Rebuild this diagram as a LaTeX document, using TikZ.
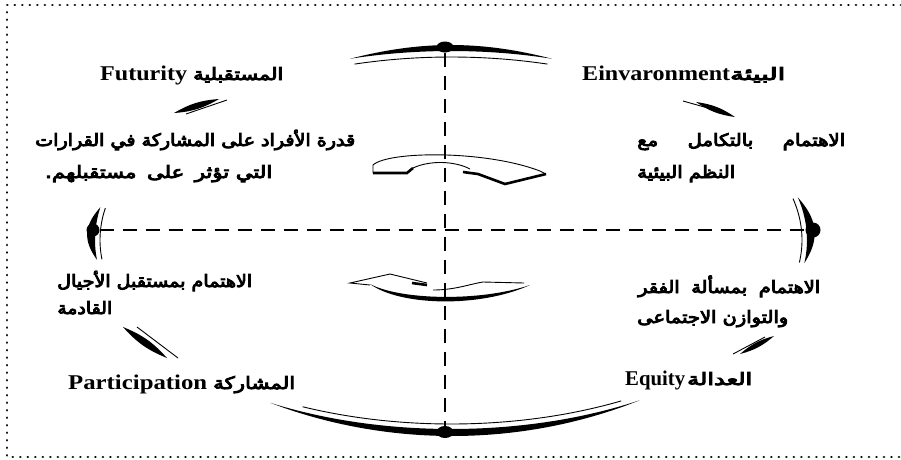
\documentclass[tikz,border=0pt]{standalone}
\usepackage{fontspec}
\usepackage{graphicx}
\setmainfont{Liberation Serif}
\newfontfamily\arabicfont[Script=Arabic,FakeBold=5]{DejaVu Sans}
\TeXXeTstate=1
\usetikzlibrary{shapes.geometric}
\newcommand\ar[1]{{\arabicfont\beginR #1\endR}}
\newcommand\fitw[2]{\resizebox{#1pt}{\height}{#2}}
\def\cx{451}\def\cy{240}\def\ra{356}\def\rb{189}
% crescent brush stroke along the ellipse (t1,t2,width) and thin inner line (t1,t2,gap)
\newcommand\brush[3]{\fill plot[domain=#1:#2,samples=50,variable=\t]
 ({\cx+(\ra+#3*sin(180*(\t-(#1))/((#2)-(#1))))*cos(\t)},{\cy-(\rb+#3*sin(180*(\t-(#1))/((#2)-(#1))))*sin(\t)})
 -- plot[domain=#2:#1,samples=50,variable=\t] ({\cx+\ra*cos(\t)},{\cy-\rb*sin(\t)}) -- cycle;}
\newcommand\thinarc[3]{\draw[thinln] plot[domain=#1:#2,samples=50,variable=\t]
 ({\cx+(\ra-#3)*cos(\t)},{\cy-(\rb-#3)*sin(\t)});}
\newcommand\lens[2]{\fill (#1) to[bend left=13] (#2) to[bend left=13] (#1);}
\begin{document}
\begin{tikzpicture}[x=1pt,y=-1pt,
 lat/.style={inner sep=0, anchor=base west, font=\fontsize{21}{24}\selectfont\bfseries},
 arb/.style={inner sep=0, anchor=base west, font=\fontsize{17}{20}\selectfont},
 dotnode/.style={ellipse, fill=black, inner sep=0},
 dashln/.style={line width=2.4pt, dash pattern=on 14pt off 9pt},
 thinln/.style={line width=0.9pt},
 thickln/.style={line width=2.6pt},
 border/.style={line width=2.8pt, line cap=round, dash pattern=on 0.01pt off 7.5pt}]
\useasboundingbox (0,0) rectangle (901,459);
% dotted frame
\draw[border] (901,5) -- (7,5) -- (7,457) -- (901,457);
% ellipse pieces
\brush{73.5}{106.5}{6}  \thinarc{74}{106}{6}
\brush{239.5}{302}{7}   \thinarc{245}{299}{5}
\brush{170}{186}{8}     \thinarc{170}{186}{5}
\brush{-7}{13}{8}       \thinarc{-7}{13}{5}
% short double strokes
\lens{174,113}{219,99}   \draw[thinln] (186,114) -- (227,100);
\lens{696,102}{735,117}  \draw[thinln] (683,101) -- (722,112);
\lens{123,327}{167,358}  \draw[thinln] (137,327) -- (178,358);
\lens{740,354}{774,336}  \draw[thinln] (733,354) -- (765,337);
% dots and axes
\node[dotnode, minimum width=17pt, minimum height=11pt] (T) at (445,47) {};
\node[dotnode, minimum width=17pt, minimum height=12pt] (B) at (445,432) {};
\node[dotnode, minimum width=13pt, minimum height=13pt] (L) at (93,230) {};
\node[dotnode, minimum width=15pt, minimum height=15pt] (R) at (813,230) {};
\draw[dashln] (T) -- (B);
\draw[dashln] (L) -- (R);
% upper curved arrow (pointing right)
\draw[thinln] (373,173) -- (373,165) .. controls (388,151) and (485,150) .. (540,171) -- (546,174);
\draw[thinln] (413,168) .. controls (430,160) and (455,161) .. (470,169);
\draw[thickln] (373,173) -- (407,173) -- (413,168);
\draw[thickln, line join=miter] (463,172) -- (478,174) -- (505,184) -- (546,174);
% lower curved arrow (pointing left)
\draw[thinln] (370,285) -- (350,283) -- (390,274) -- (427,283);
\draw[thickln] (412,283) -- (427,285);
\fill (370,284) .. controls (400,306) and (480,308) .. (530,285) .. controls (480,302) and (400,300) .. (370,284);
\draw[thinln] (433,290) .. controls (455,290) and (470,284) .. (483,282) -- (524,283);
% labels
\node[lat] (futL) at (100,80) {\fitw{87}{Futurity}};
\node[arb] (futA) at (193,80) {\fitw{90}{\ar{المستقبلية}}};
\node[lat] (envL) at (582,80) {\fitw{148}{Einvaronment}};
\node[arb] (envA) at (730,80) {\fitw{55}{\ar{البيئة}}};
\node[arb] (t1) at (35,146) {\fitw{320}{\ar{قدرة الأفراد على المشاركة في القرارات}}};
\node[arb] (t2) at (45,178) {\fitw{227}{\ar{التي تؤثر\hspace{0.5em}على\hspace{0.5em}مستقبلهم.}}};
\node[arb] (t3) at (637,146) {\fitw{208}{\ar{الاهتمام\hspace{1.5em}بالتكامل\hspace{1.5em}مع}}};
\node[arb] (t4) at (637,178) {\fitw{98}{\ar{النظم البيئية}}};
\node[arb] (t5) at (57,287) {\fitw{195}{\ar{الاهتمام بمستقبل الأجيال}}};
\node[arb] (t6) at (57,314) {\fitw{55}{\ar{القادمة}}};
\node[lat] (parL) at (68,389) {\fitw{139}{Participation}};
\node[arb] (parA) at (213,389) {\fitw{82}{\ar{المشاركة}}};
\node[arb] (t7) at (638,293) {\fitw{182}{\ar{الاهتمام\hspace{0.6em}بمسألة\hspace{0.6em}الفقر}}};
\node[arb] (t8) at (637,323) {\fitw{151}{\ar{والتوازن الاجتماعى}}};
\node[lat] (eqL) at (625,385) {\fitw{60}{Equity}};
\node[arb] (eqA) at (687,385) {\fitw{65}{\ar{العدالة}}};
\end{tikzpicture}
\end{document}
